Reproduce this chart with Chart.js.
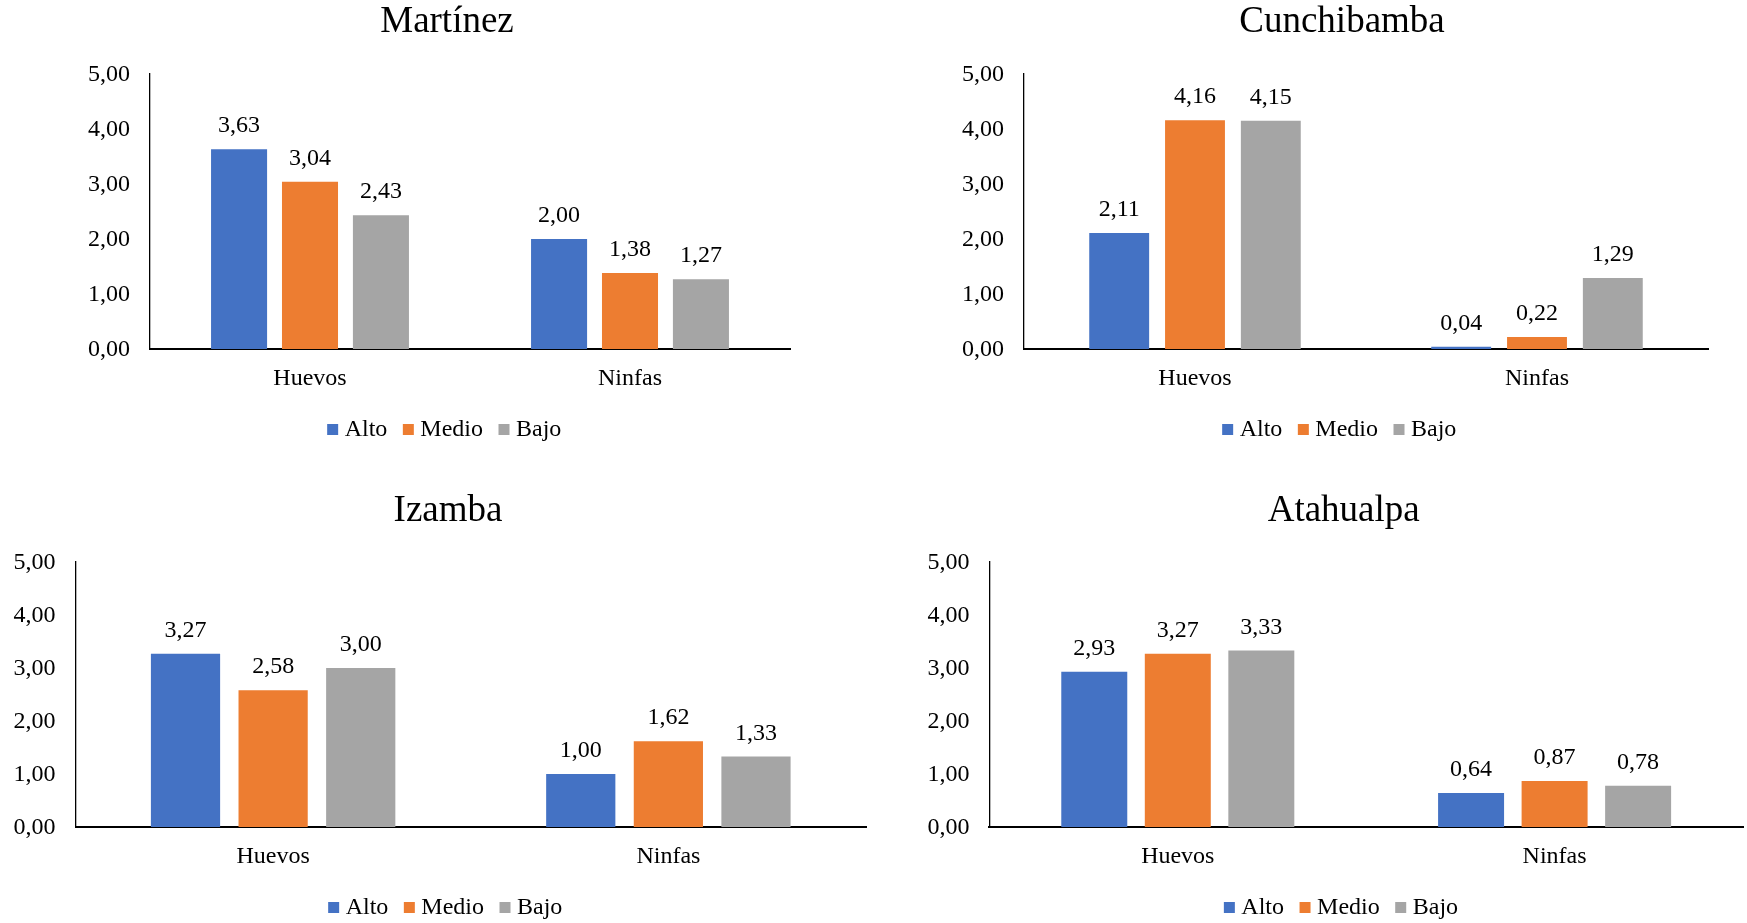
<!DOCTYPE html>
<html lang="es">
<head>
<meta charset="utf-8">
<title>Huevos y ninfas por sitio y nivel</title>
<script src="https://cdn.jsdelivr.net/npm/chart.js@4/dist/chart.umd.min.js"></script>
<style>
  html, body { margin: 0; padding: 0; background: #ffffff; }
  body { width: 1747px; height: 923px; overflow: hidden; position: relative; }
  canvas { position: absolute; }
</style>
</head>
<body>
<canvas id="chartMartinez"></canvas>
<canvas id="chartCunchibamba"></canvas>
<canvas id="chartIzamba"></canvas>
<canvas id="chartAtahualpa"></canvas>
<script>
// ---- Data ----
const categories = ['Huevos', 'Ninfas'];
const seriesNames = ['Alto', 'Medio', 'Bajo'];
const yTicks = [0, 1, 2, 3, 4, 5];

const martinezAlto  = [3.63, 2.00];
const martinezMedio = [3.04, 1.38];
const martinezBajo  = [2.43, 1.27];

const cunchibambaAlto  = [2.11, 0.04];
const cunchibambaMedio = [4.16, 0.22];
const cunchibambaBajo  = [4.15, 1.29];

const izambaAlto  = [3.27, 1.00];
const izambaMedio = [2.58, 1.62];
const izambaBajo  = [3.00, 1.33];

const atahualpaAlto  = [2.93, 0.64];
const atahualpaMedio = [3.27, 0.87];
const atahualpaBajo  = [3.33, 0.78];

// ---- Styling ----
const seriesColors = ['#4472C4', '#ED7D31', '#A5A5A5'];
const FONT = '"Liberation Serif", "Times New Roman", serif';
const fmt = v => v.toFixed(2).replace('.', ',');

// Panel placement on the page (the empty right-hand scale keeps title and
// legend centred on the whole panel rather than on the plot area)
const panels = [
  { id: 'chartMartinez', title: 'Martínez',
    series: [martinezAlto, martinezMedio, martinezBajo],
    left: 0, top: 0, width: 873, height: 460,
    padLeft: 82, padRight: 61, padBottom: 8.4, axisWidth: 68, sideWidth: 22, titleGap: 29.6 },
  { id: 'chartCunchibamba', title: 'Cunchibamba',
    series: [cunchibambaAlto, cunchibambaMedio, cunchibambaBajo],
    left: 873, top: 0, width: 874, height: 460,
    padLeft: 83, padRight: 19, padBottom: 8.4, axisWidth: 68, sideWidth: 20, titleGap: 29.6 },
  { id: 'chartIzamba', title: 'Izamba',
    series: [izambaAlto, izambaMedio, izambaBajo],
    left: 0, top: 489, width: 890, height: 450,
    padLeft: 7.5, padRight: 1.5, padBottom: 9.4, axisWidth: 68, sideWidth: 22.5, titleGap: 28.6 },
  { id: 'chartAtahualpa', title: 'Atahualpa',
    series: [atahualpaAlto, atahualpaMedio, atahualpaBajo],
    left: 873, top: 489, width: 900, height: 450,
    padLeft: 48.4, padRight: 7, padBottom: 9.4, axisWidth: 68, sideWidth: 23, titleGap: 28.6 }
];

// Value labels above every bar
const barValueLabels = {
  id: 'barValueLabels',
  afterDatasetsDraw(chart) {
    const ctx = chart.ctx;
    ctx.save();
    ctx.font = '24px ' + FONT;
    ctx.fillStyle = '#000000';
    ctx.textAlign = 'center';
    ctx.textBaseline = 'alphabetic';
    chart.data.datasets.forEach((ds, i) => {
      const meta = chart.getDatasetMeta(i);
      meta.data.forEach((bar, j) => {
        ctx.fillText(fmt(ds.data[j]), bar.x, bar.y - 17);
      });
    });
    ctx.restore();
  }
};

panels.forEach(p => {
  const canvas = document.getElementById(p.id);
  canvas.width = p.width;
  canvas.height = p.height;
  canvas.style.left = p.left + 'px';
  canvas.style.top = p.top + 'px';
  canvas.style.width = p.width + 'px';
  canvas.style.height = p.height + 'px';

  new Chart(canvas, {
    type: 'bar',
    data: {
      labels: categories,
      datasets: seriesNames.map((name, i) => ({
        label: name,
        data: p.series[i],
        backgroundColor: seriesColors[i],
        borderWidth: 0,
        barPercentage: 0.79,
        categoryPercentage: 0.665,
        yAxisID: 'y'
      }))
    },
    options: {
      responsive: false,
      animation: false,
      devicePixelRatio: 1,
      events: [],
      layout: {
        padding: { top: 0, left: p.padLeft, right: p.padRight, bottom: p.padBottom }
      },
      plugins: {
        tooltip: { enabled: false },
        title: {
          display: true,
          text: p.title,
          color: '#000000',
          font: { family: FONT, size: 37, weight: 'normal', lineHeight: 1.2 },
          padding: { top: 0, bottom: p.titleGap }
        },
        legend: {
          display: true,
          position: 'bottom',
          labels: {
            color: '#000000',
            font: { family: FONT, size: 24, lineHeight: 1.2 },
            // small square marker sitting close to its text
            usePointStyle: true,
            pointStyle: 'rect',
            boxWidth: 0.01,
            boxHeight: 11,
            padding: 21
          }
        }
      },
      scales: {
        x: {
          z: 1,
          afterFit: scale => { scale.height = 47.6; },
          grid: { display: false, drawTicks: false },
          border: { display: true, color: '#000000', width: 2 },
          ticks: {
            color: '#000000',
            font: { family: FONT, size: 24, lineHeight: 1.2 },
            padding: 15.5
          }
        },
        y: {
          position: 'left',
          min: 0,
          max: 5,
          afterBuildTicks: scale => { scale.ticks = yTicks.map(v => ({ value: v })); },
          afterFit: scale => { scale.width = p.axisWidth; },
          grid: { display: false, drawTicks: false },
          border: { display: true, color: '#000000', width: 1.3 },
          ticks: {
            color: '#000000',
            font: { family: FONT, size: 24, lineHeight: 1.2 },
            padding: 20,
            labelOffset: 1,
            callback: v => fmt(v)
          }
        },
        side: {
          position: 'right',
          min: 0,
          max: 5,
          afterFit: scale => { scale.width = p.sideWidth; },
          grid: { display: false, drawTicks: false },
          border: { display: false },
          ticks: { display: false }
        }
      }
    },
    plugins: [barValueLabels]
  });
});
</script>
</body>
</html>
